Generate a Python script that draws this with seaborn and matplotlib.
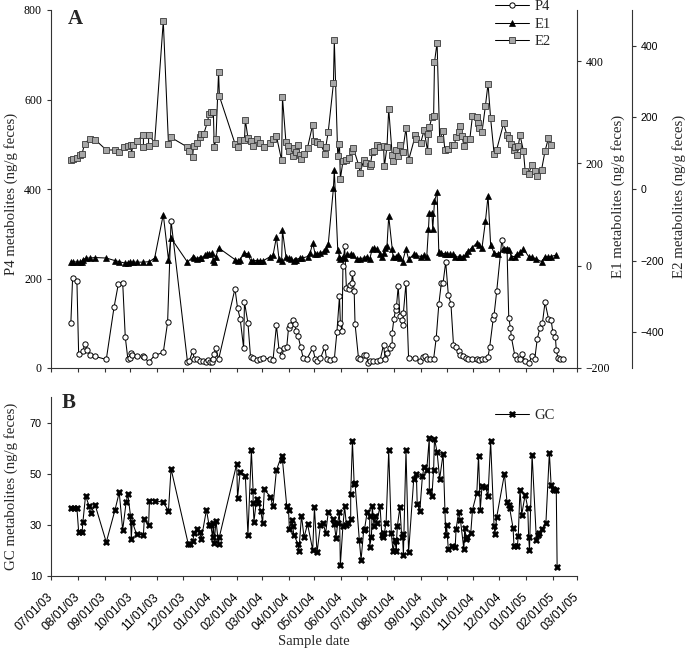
import numpy as np
import pandas as pd
import matplotlib
matplotlib.use("Agg")
import matplotlib.pyplot as plt
import matplotlib.dates as mdates
import seaborn as sns

sns.set_style("ticks")
plt.rcParams['font.family'] = ['Liberation Serif', 'DejaVu Serif']
SANS = ['Liberation Sans', 'DejaVu Sans']

# ---------------- data (days since 07/01/03) ----------------
p4_days = [23, 25, 30, 32, 37, 39, 42, 45, 51, 64, 73, 78, 83, 86, 89, 91, 93, 94, 99, 107,
           108, 113, 120, 130, 135, 139, 158, 160, 164, 166, 169, 172, 176, 180, 182, 184, 186, 187, 189, 191,
           194, 213, 216, 219, 223, 224, 228, 231, 234, 238, 242, 246, 254, 257, 261, 264, 267, 270, 273, 275,
           277, 280, 282, 284, 286, 289, 292, 296, 303, 306, 308, 312, 317, 319, 323, 328, 331, 334, 335, 337,
           338, 340, 342, 345, 346, 348, 349, 351, 352, 356, 358, 362, 365, 367, 369, 373, 377, 381, 385, 387,
           389, 393, 395, 395, 397, 399, 400, 402, 404, 406, 407, 408, 411, 414, 422, 427, 431, 433, 435, 439,
           443, 446, 449, 452, 454, 457, 460, 463, 466, 469, 472, 474, 477, 481, 483, 487, 493, 496, 499, 503,
           506, 508, 512, 513, 516, 522, 524, 528, 530, 532, 533, 537, 540, 543, 545, 549, 553, 557, 560, 563,
           566, 569, 572, 576, 579, 581, 584, 585, 587, 589, 593]
p4_vals = [101, 201, 194, 32, 37, 54, 40, 30, 26, 19, 136, 188, 191, 69, 20, 22, 34, 28, 26, 26,
           25, 13, 28, 35, 102, 329, 14, 16, 37, 20, 19, 16, 16, 14, 17, 14, 13, 20, 32, 45,
           19, 177, 134, 110, 45, 147, 101, 25, 22, 17, 20, 22, 20, 17, 95, 41, 26, 45, 48, 89,
           97, 107, 99, 82, 71, 48, 22, 19, 45, 19, 16, 22, 47, 21, 17, 19, 80, 160, 101, 82,
           229, 272, 179, 177, 186, 190, 212, 173, 99, 22, 19, 30, 30, 11, 15, 15, 15, 17, 52, 19,
           34, 45, 52, 78, 110, 130, 138, 183, 116, 108, 97, 123, 190, 22, 22, 15, 25, 26, 21, 21,
           20, 67, 142, 191, 191, 237, 164, 144, 52, 48, 37, 28, 26, 22, 20, 19, 20, 17, 20, 19,
           25, 48, 110, 119, 171, 287, 264, 264, 112, 89, 69, 28, 20, 19, 32, 15, 11, 26, 19, 65,
           89, 101, 147, 110, 108, 80, 69, 40, 22, 20, 20]

e1_days = [23, 26, 30, 33, 36, 37, 41, 45, 51, 64, 74, 79, 86, 89, 92, 95, 100, 107, 114, 120,
           130, 136, 139, 158, 164, 166, 169, 172, 174, 178, 181, 183, 186, 188, 189, 191, 194, 213, 216, 219,
           224, 228, 231, 234, 238, 242, 246, 254, 257, 261, 264, 267, 268, 272, 275, 278, 281, 283, 284, 288,
           291, 297, 300, 303, 306, 308, 312, 316, 318, 321, 327, 328, 332, 334, 335, 338, 340, 343, 347, 350,
           354, 358, 362, 366, 369, 372, 374, 377, 381, 383, 385, 387, 389, 391, 395, 396, 399, 402, 404, 407,
           411, 414, 420, 423, 428, 432, 435, 437, 438, 441, 442, 444, 447, 449, 452, 456, 459, 462, 465, 468,
           472, 474, 477, 481, 483, 487, 493, 496, 499, 503, 506, 509, 513, 518, 524, 528, 530, 533, 537, 540,
           543, 547, 553, 557, 562, 568, 572, 576, 579, 585]
e1_vals = [8, 8, 7, 7, 8, 12, 15, 15, 16, 15, 10, 8, 5, 6, 7, 7, 7, 7, 8, 15,
           100, 12, 54, 7, 17, 16, 14, 16, 15, 20, 22, 23, 25, 12, 8, 18, 35, 12, 10, 12,
           25, 23, 10, 10, 10, 10, 10, 18, 20, 56, 13, 10, 69, 18, 15, 14, 10, 12, 12, 15,
           15, 18, 25, 44, 22, 23, 25, 28, 33, 42, 152, 187, 31, 18, 13, 18, 15, 22, 23, 20,
           13, 14, 15, 18, 13, 33, 35, 33, 22, 18, 25, 35, 38, 97, 33, 18, 18, 20, 15, 8,
           33, 13, 22, 20, 18, 20, 17, 71, 103, 103, 71, 126, 144, 27, 25, 23, 23, 22, 22, 18,
           17, 17, 18, 22, 28, 35, 44, 41, 35, 87, 137, 41, 25, 23, 33, 33, 31, 18, 18, 23,
           26, 33, 18, 17, 13, 8, 18, 17, 18, 21]

e2_days = [23, 26, 30, 33, 36, 39, 45, 51, 64, 74, 79, 84, 89, 93, 93, 95, 100, 107, 107, 113,
           113, 120, 130, 136, 139, 158, 160, 164, 165, 169, 172, 174, 177, 181, 183, 185, 188, 189, 191, 194,
           195, 213, 216, 219, 224, 225, 228, 232, 234, 238, 242, 247, 254, 257, 261, 267, 268, 272, 274, 276,
           280, 281, 284, 286, 288, 290, 293, 297, 303, 304, 308, 312, 317, 318, 321, 327, 328, 332, 334, 335,
           338, 342, 345, 348, 350, 356, 358, 362, 365, 369, 370, 372, 374, 377, 381, 385, 386, 389, 391, 395,
           396, 399, 402, 404, 407, 411, 414, 422, 423, 428, 432, 436, 437, 438, 441, 443, 444, 447, 450, 454,
           456, 460, 464, 467, 469, 472, 474, 476, 478, 481, 485, 488, 493, 494, 496, 499, 503, 506, 509, 513,
           516, 524, 528, 530, 533, 536, 537, 540, 541, 543, 547, 549, 553, 557, 560, 563, 568, 572, 576, 579]
e2_vals = [80, 84, 87, 94, 99, 127, 141, 138, 109, 109, 102, 116, 120, 123, 98, 124, 135, 152, 117, 119,
           152, 129, 469, 127, 144, 117, 106, 89, 120, 129, 145, 155, 155, 186, 209, 214, 214, 117, 139, 327,
           259, 127, 117, 137, 137, 193, 143, 134, 120, 139, 129, 118, 129, 141, 148, 80, 256, 131, 120, 106,
           92, 115, 103, 123, 96, 85, 99, 115, 180, 134, 131, 127, 99, 116, 160, 295, 417, 92, 125, 28,
           77, 82, 86, 106, 115, 68, 46, 80, 73, 63, 71, 103, 105, 122, 118, 120, 63, 118, 224, 96,
           77, 109, 92, 122, 103, 170, 80, 151, 139, 129, 164, 106, 153, 172, 200, 203, 354, 409, 139, 162,
           108, 112, 123, 123, 145, 158, 176, 148, 120, 139, 141, 205, 200, 184, 169, 159, 233, 294, 197, 99,
           110, 183, 150, 143, 127, 108, 118, 96, 120, 151, 106, 49, 43, 68, 49, 35, 54, 106, 143, 123]

gc_days = [23, 27, 30, 32, 36, 37, 40, 44, 46, 51, 64, 74, 79, 83, 87, 89, 92, 93, 94, 99,
           107, 108, 113, 114, 120, 130, 136, 139, 159, 161, 164, 166, 169, 172, 174, 180, 183, 185, 187, 188,
           189, 191, 194, 195, 215, 216, 219, 225, 228, 232, 234, 234, 235, 238, 240, 243, 245, 247, 254, 257,
           261, 267, 268, 273, 275, 276, 279, 280, 281, 286, 287, 290, 293, 297, 303, 305, 308, 312, 315, 318,
           321, 327, 328, 330, 332, 334, 335, 338, 340, 342, 344, 347, 347, 349, 351, 352, 357, 359, 362, 363,
           366, 369, 369, 371, 372, 374, 375, 377, 381, 383, 384, 386, 388, 391, 394, 396, 398, 400, 400, 401,
           404, 406, 407, 408, 411, 414, 420, 423, 424, 427, 430, 432, 435, 438, 438, 441, 443, 444, 447, 450,
           454, 456, 457, 458, 460, 464, 468, 469, 472, 474, 478, 479, 481, 482, 486, 488, 493, 495, 497, 499,
           503, 506, 509, 513, 514, 516, 525, 528, 530, 531, 535, 536, 540, 541, 543, 545, 549, 552, 553, 554,
           557, 562, 564, 565, 568, 573, 577, 579, 581, 582, 585, 586]
gc_vals = [36.6, 36.6, 36.6, 27.4, 27.2, 31.3, 41.4, 37.5, 34.6, 37.9, 23.2, 35.7, 42.7, 28.0, 38.9, 42.0, 33.6, 24.5, 31.3, 26.4,
           26.1, 32.3, 29.8, 39.5, 39.5, 38.8, 35.5, 51.9, 22.4, 22.4, 23.5, 27.0, 28.3, 27.4, 24.5, 35.9, 29.8, 29.8, 25.4, 30.7,
           23.1, 31.7, 22.4, 25.4, 53.8, 40.5, 50.7, 49.3, 26.1, 59.1, 43.4, 38.5, 31.3, 40.1, 38.5, 35.3, 30.7, 44.0, 40.9, 37.2,
           51.4, 57.1, 55.3, 37.2, 35.9, 28.3, 32.0, 29.6, 26.1, 22.6, 19.9, 33.6, 25.1, 30.4, 20.2, 36.8, 19.2, 30.0, 30.7, 26.8,
           34.9, 32.3, 30.4, 24.8, 30.9, 34.9, 14.3, 29.6, 37.2, 29.9, 30.9, 32.3, 42.2, 62.7, 46.1, 46.4, 23.9, 16.3, 27.8, 28.3,
           34.9, 33.6, 21.5, 25.4, 37.2, 29.4, 33.3, 30.9, 37.2, 26.1, 25.4, 27.0, 30.9, 59.1, 26.8, 19.6, 24.1, 19.6, 23.5, 29.4,
           37.0, 25.4, 26.5, 18.2, 59.1, 19.2, 48.0, 49.9, 38.3, 35.3, 49.0, 52.7, 51.4, 64.1, 43.4, 41.4, 51.6, 63.7, 58.4, 48.0,
           57.9, 35.9, 26.1, 30.0, 20.5, 21.9, 21.5, 28.3, 34.9, 32.0, 20.5, 28.7, 24.4, 25.4, 26.8, 35.9, 42.5, 57.1, 35.9, 45.1,
           44.8, 41.4, 62.7, 29.4, 26.4, 33.0, 49.9, 38.8, 37.9, 36.6, 28.7, 21.9, 21.9, 25.7, 43.8, 34.0, 41.8, 36.6, 25.4, 20.2,
           57.5, 24.1, 26.1, 27.0, 28.3, 30.7, 58.2, 45.7, 44.0, 43.8, 43.8, 13.4]

start_date = "2003-07-01"
end_date = "2005-03-01"
p4_ticks = [0, 200, 400, 600, 800]
e1_ticks = [-200, 0, 200, 400]
e2_ticks = [-400, -200, 0, 200, 400]
gc_ticks = [10, 30, 50, 70]

base = pd.Timestamp(start_date)
def to_df(days, vals):
    return pd.DataFrame({"date": base + pd.to_timedelta(np.array(days, dtype=float), unit="D"),
                         "val": vals})

p4 = to_df(p4_days, p4_vals)
e1 = to_df(e1_days, e1_vals)
e2 = to_df(e2_days, e2_vals)
gc = to_df(gc_days, gc_vals)

W, H = 685, 650
fig = plt.figure(figsize=(W / 100, H / 100), dpi=100)
L, R = 51, 577
axA = fig.add_axes([L / W, 1 - 368 / H, (R - L) / W, (368 - 10) / H])
axE1 = axA.twinx()
axE2 = axA.twinx()
axB = fig.add_axes([L / W, 1 - 576 / H, (R - L) / W, (576 - 397) / H])

LW = 0.75
common = dict(estimator=None, sort=False, legend=False, linewidth=LW, color="black")
sns.lineplot(data=p4, x="date", y="val", ax=axA, marker="o", markersize=3.8,
             markerfacecolor="white", markeredgecolor="black", markeredgewidth=0.7, label="P4", **common)
sns.lineplot(data=e1, x="date", y="val", ax=axE1, marker="^", markersize=4.3,
             markerfacecolor="black", markeredgecolor="black", markeredgewidth=0.5, label="E1", **common)
sns.lineplot(data=e2, x="date", y="val", ax=axE2, marker="s", markersize=3.8,
             markerfacecolor="#a6a6a6", markeredgecolor="#3a3a3a", markeredgewidth=0.6, label="E2", **common)
sns.lineplot(data=gc, x="date", y="val", ax=axB, marker="X", markersize=4.8,
             markerfacecolor="black", markeredgecolor="black", markeredgewidth=0.4, label="GC", **common)

xmin, xmax = pd.Timestamp(start_date), pd.Timestamp(end_date)
for ax in (axA, axE1, axE2, axB):
    ax.set_xlim(xmin, xmax)
    ax.xaxis.set_major_locator(mdates.MonthLocator())
    ax.xaxis.set_major_formatter(mdates.DateFormatter("%m/%d/%y"))
    ax.set_xlabel("")
    ax.set_ylabel("")
    ax.patch.set_visible(False)

axA.set_ylim(0, 800); axA.set_yticks(p4_ticks)
axE1.set_ylim(-200, 500); axE1.set_yticks(e1_ticks)
axE2.set_ylim(-500, 500); axE2.set_yticks(e2_ticks)
axB.set_ylim(10, 80); axB.set_yticks(gc_ticks)

spine_c = "#333333"
for ax in (axA, axE1, axE2, axB):
    for s in ax.spines.values():
        s.set_visible(False)
        s.set_color(spine_c)
        s.set_linewidth(0.8)
    ax.tick_params(colors=spine_c, width=0.8, length=3, labelcolor="black")

axA.spines["left"].set_visible(True)
axA.spines["bottom"].set_visible(True)
axA.tick_params(axis="x", labelbottom=False)
axA.tick_params(axis="y", labelsize=8.5, pad=3.5)
axE1.spines["right"].set_visible(True)
axE1.tick_params(axis="y", labelsize=8.5, pad=3)
axE1.tick_params(axis="x", bottom=False, labelbottom=False)
axE2.spines["right"].set_visible(True)
axE2.spines["right"].set_position(("axes", (631.5 - L) / (R - L)))
axE2.tick_params(axis="y", labelsize=7.6, pad=3.5)
axE2.tick_params(axis="x", bottom=False, labelbottom=False)
for t in axE2.get_yticklabels():
    t.set_family(SANS)

axB.spines["left"].set_visible(True)
axB.spines["bottom"].set_visible(True)
axB.tick_params(axis="y", labelsize=7.8, pad=3.5)
axB.tick_params(axis="x", labelsize=8.8, pad=11)
for t in axB.get_yticklabels():
    t.set_family(SANS)
for t in axB.get_xticklabels():
    t.set_family(SANS)
    t.set_rotation(45)
    t.set_ha("right")
    t.set_va("center")
    t.set_rotation_mode("anchor")

lab_fs = 10.7
axA.set_ylabel("P4 metabolites (ng/g feces)", fontsize=lab_fs)
axA.yaxis.set_label_coords((18 - L) / (R - L), 0.485)
axE1.set_ylabel("E1 metabolites (ng/g feces)", fontsize=lab_fs)
axE1.yaxis.set_label_coords((611 - L) / (R - L), 0.48)
axE2.set_ylabel("E2 metabolites (ng/g feces)", fontsize=lab_fs)
axE2.yaxis.set_label_coords((672 - L) / (R - L), 0.48)
axB.set_ylabel("GC metabolites (ng/g feces)", fontsize=lab_fs)
axB.yaxis.set_label_coords((18 - L) / (R - L), 0.5)
axB.set_xlabel("Sample date", fontsize=10.5)
axB.xaxis.set_label_coords(0.499, (576 - 635) / (576 - 397))

fig.text(68 / W, 1 - 24 / H, "A", fontsize=15, fontweight="bold", va="baseline", ha="left")
fig.text(62 / W, 1 - 408 / H, "B", fontsize=15, fontweight="bold", va="baseline", ha="left")

handles = []
labels = []
for ax in (axA, axE1, axE2):
    h, l = ax.get_legend_handles_labels()
    handles += h; labels += l
leg = fig.legend(handles, labels, loc="upper left", bbox_to_anchor=(495 / W, 1.0),
                 frameon=False, fontsize=10.5, handlelength=2.3, handletextpad=0.4,
                 labelspacing=0.3, borderpad=0, borderaxespad=0)
hB, lB = axB.get_legend_handles_labels()
fig.legend(hB, lB, loc="upper left", bbox_to_anchor=(495 / W, 1 - 408.5 / H),
           frameon=False, fontsize=10.5, handlelength=2.3, handletextpad=0.4,
           borderpad=0, borderaxespad=0)

fig.savefig("out.png", dpi=100)
